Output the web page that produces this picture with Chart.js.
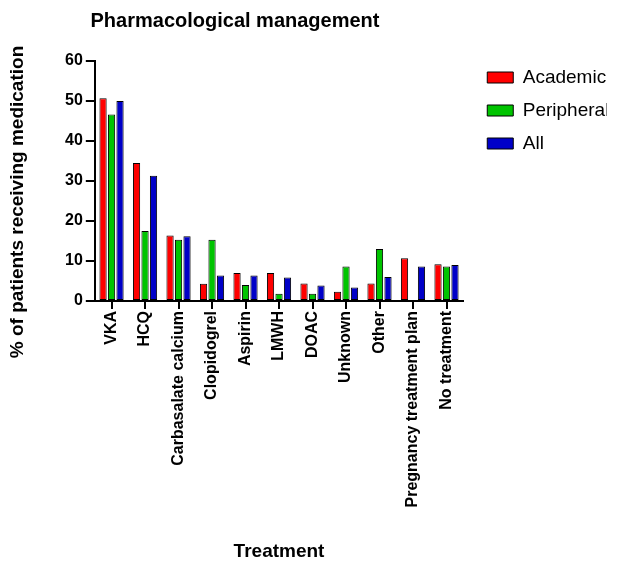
<!DOCTYPE html>
<html>
<head>
<meta charset="utf-8">
<title>Pharmacological management</title>
<script src="https://cdn.jsdelivr.net/npm/chart.js@4.4.1/dist/chart.umd.min.js"></script>
<style>
  html, body { margin: 0; padding: 0; background: #fff; }
</style>
</head>
<body>
<canvas id="pharma-chart" width="620" height="565"></canvas>
<script>
// values (% of patients)
const chartTitle = 'Pharmacological management';
const yTitle = '% of patients receiving medication';
const treatments = ['VKA', 'HCQ', 'Carbasalate calcium', 'Clopidogrel', 'Aspirin', 'LMWH',
    'DOAC', 'Unknown', 'Other', 'Pregnancy treatment plan', 'No treatment'];
const academic   = [50.7, 34.5, 16.4, 4.3, 7.0, 7.0, 4.4, 2.3, 4.4, 10.7, 9.2];
const peripheral = [46.6, 17.5, 15.3, 15.3, 4.0, 1.8, 1.8, 8.6, 13.0, 0, 8.6];
const allPatients = [50.0, 31.3, 16.2, 6.4, 6.4, 5.9, 3.9, 3.4, 6.0, 8.6, 9.0];
const yTicks = [0, 10, 20, 30, 40, 50, 60];

const FONT = '"Liberation Sans", Arial, sans-serif';

// the original places both titles off-centre, so they are drawn by hand
const titlePlugin = {
    id: 'plotTitles',
    afterDraw(chart) {
        const ctx = chart.ctx;
        ctx.save();
        ctx.fillStyle = '#000';
        ctx.textAlign = 'center';
        ctx.textBaseline = 'middle';
        ctx.font = 'bold 20px ' + FONT;
        ctx.fillText(chartTitle, 235, 21);

        ctx.translate(18, 202);
        ctx.rotate(-Math.PI / 2);
        ctx.font = 'bold 19px ' + FONT;
        ctx.fillText(yTitle, 0, 0);
        ctx.restore();
    }
};

// pull the legend up next to the top of the plot
const legendNudge = {
    id: 'legendNudge',
    afterLayout(chart) {
        const lg = chart.legend;
        const w = lg.width, h = lg.height;
        lg.left = chart.chartArea.right + 10;
        lg.right = lg.left + w;
        lg.top = chart.chartArea.top - 7;
        lg.bottom = lg.top + h;
    }
};

function setupChart() {
    const ctx = document.getElementById('pharma-chart').getContext('2d');
    const barStyle = { borderColor: '#000', borderWidth: 1, borderSkipped: false,
        categoryPercentage: 0.76, barPercentage: 0.85 };

    const config = {
        type: 'bar',
        data: {
            labels: treatments,
            datasets: [
                Object.assign({ label: 'Academic', data: academic, backgroundColor: '#ff0000' }, barStyle),
                Object.assign({ label: 'Peripheral', data: peripheral, backgroundColor: '#00c400' }, barStyle),
                Object.assign({ label: 'All', data: allPatients, backgroundColor: '#0000c8' }, barStyle)
            ]
        },
        options: {
            responsive: false,
            animation: false,
            // the x scale is capped at half the height, so bottom padding keeps the plot short
            layout: { padding: { left: 62, right: 23, top: 61, bottom: 24 } },
            plugins: {
                title: { display: false },
                tooltip: { enabled: false },
                legend: {
                    position: 'right',
                    align: 'start',
                    fullSize: false,
                    labels: {
                        boxWidth: 26,
                        boxHeight: 11,
                        padding: 14,
                        color: '#000',
                        font: { family: FONT, size: 19 }
                    }
                }
            },
            scales: {
                x: {
                    grid: { display: true, drawOnChartArea: false, offset: false,
                        color: '#000', lineWidth: 2, tickLength: 8 },
                    border: { display: true, color: '#000', width: 2 },
                    ticks: {
                        color: '#000', autoSkip: false, minRotation: 90, maxRotation: 90, padding: 2,
                        font: { family: FONT, size: 16, weight: 'bold' }
                    },
                    title: {
                        display: true, text: 'Treatment', color: '#000',
                        padding: { top: 40, bottom: -22 },
                        font: { family: FONT, size: 19, weight: 'bold' }
                    }
                },
                y: {
                    min: 0,
                    max: 60,
                    afterBuildTicks: (axis) => { axis.ticks = yTicks.map(v => ({ value: v })); },
                    grid: { display: true, drawOnChartArea: false, color: '#000', lineWidth: 2, tickLength: 9 },
                    border: { display: true, color: '#000', width: 2 },
                    ticks: {
                        color: '#000', padding: 3,
                        font: { family: FONT, size: 16, weight: 'bold' }
                    }
                }
            }
        },
        plugins: [titlePlugin, legendNudge]
    };

    return new Chart(ctx, config);
}

setupChart();
</script>
</body>
</html>
